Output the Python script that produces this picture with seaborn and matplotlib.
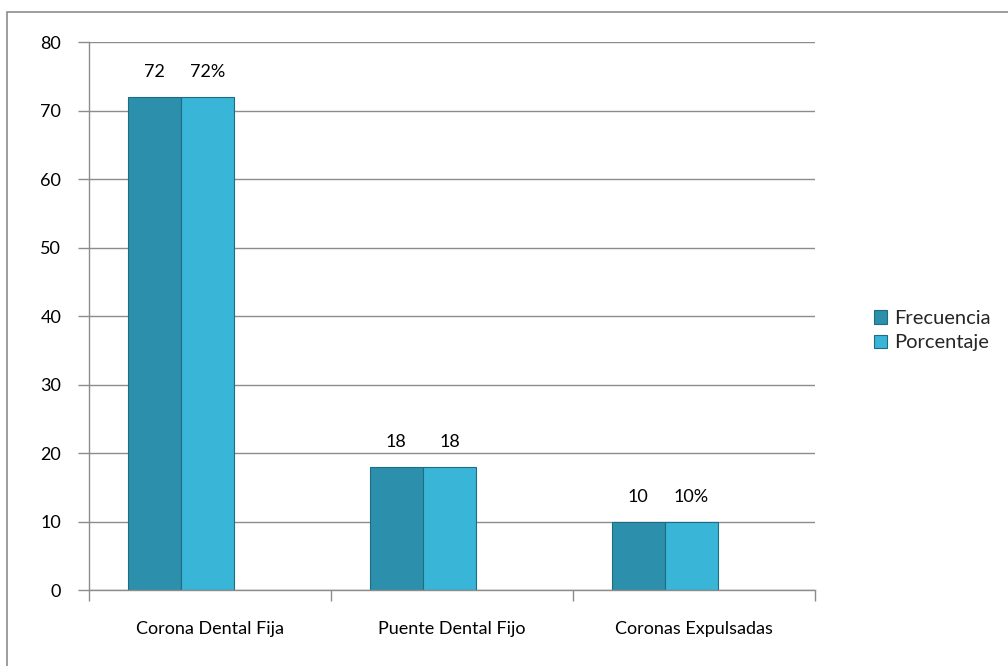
import matplotlib
matplotlib.use("Agg")
import matplotlib.pyplot as plt
import seaborn as sns
import pandas as pd
from matplotlib.patches import Rectangle

categorias = ["Corona Dental Fija", "Puente Dental Fijo", "Coronas Expulsadas"]
frecuencia = [72, 18, 10]
porcentaje = [72, 18, 10]
etiquetas_frecuencia = ["72", "18", "10"]
etiquetas_porcentaje = ["72%", "18", "10%"]
series = ["Frecuencia", "Porcentaje"]
colores = ["#2C90AC", "#39B5D8"]

df = pd.DataFrame({
    "categoria": categorias * 2,
    "serie": [series[0]] * 3 + [series[1]] * 3,
    "valor": frecuencia + porcentaje,
})

sns.set_theme(style="white")
plt.rcParams["font.family"] = ["Lato", "DejaVu Sans"]

fig = plt.figure(figsize=(10.08, 6.66), dpi=100)
ax = fig.add_axes([0.0883, 0.1141, 0.72, 0.8228])

sns.barplot(data=df, x="categoria", y="valor", hue="serie", order=categorias,
            hue_order=series, palette=colores, width=0.44, ax=ax,
            edgecolor="#1E6C82", linewidth=0.8, saturation=1, legend=True)

ax.set_xlim(-0.38, 2.62)
ax.set_ylim(0, 80)
ax.set_yticks(range(0, 81, 10))
ax.yaxis.grid(True, color="#8C8C8C", linewidth=1)
ax.set_axisbelow(True)
ax.set_xlabel("")
ax.set_ylabel("")

# category labels centred in each slot, tick marks on the slot boundaries
ax.set_xticks([0.12, 1.12, 2.12])
ax.set_xticklabels(categorias, fontsize=13, color="#000000")
ax.tick_params(axis="x", length=0, pad=22)
ax.set_xticks([-0.38, 0.62, 1.62, 2.62], minor=True)
ax.tick_params(axis="x", which="minor", length=8, width=1, color="#8C8C8C", direction="out", bottom=True)
ax.tick_params(axis="y", length=8, width=1, color="#8C8C8C", direction="out", left=True,
               labelsize=13, labelcolor="#000000", pad=12)

for s in ["top", "right"]:
    ax.spines[s].set_visible(False)
for s in ["left", "bottom"]:
    ax.spines[s].set_color("#8C8C8C")
    ax.spines[s].set_linewidth(1)

# value labels above bars
for cont, etiquetas in zip(ax.containers, [etiquetas_frecuencia, etiquetas_porcentaje]):
    ax.bar_label(cont, labels=etiquetas, padding=12, fontsize=13, color="#000000")

leg = ax.legend(loc="center left", bbox_to_anchor=(1.07, 0.473), frameon=False,
                fontsize=14.5, handlelength=0.65, handleheight=0.65, handletextpad=0.35,
                labelspacing=0.35, borderaxespad=0)

# chart frame
fig.add_artist(Rectangle((7 / 1008, -0.1), 1.2, 1 - 12 / 666 + 0.1, transform=fig.transFigure,
                         fill=False, edgecolor="#8C8C8C", linewidth=1.2))

fig.savefig("out.png", dpi=100, facecolor="white")
